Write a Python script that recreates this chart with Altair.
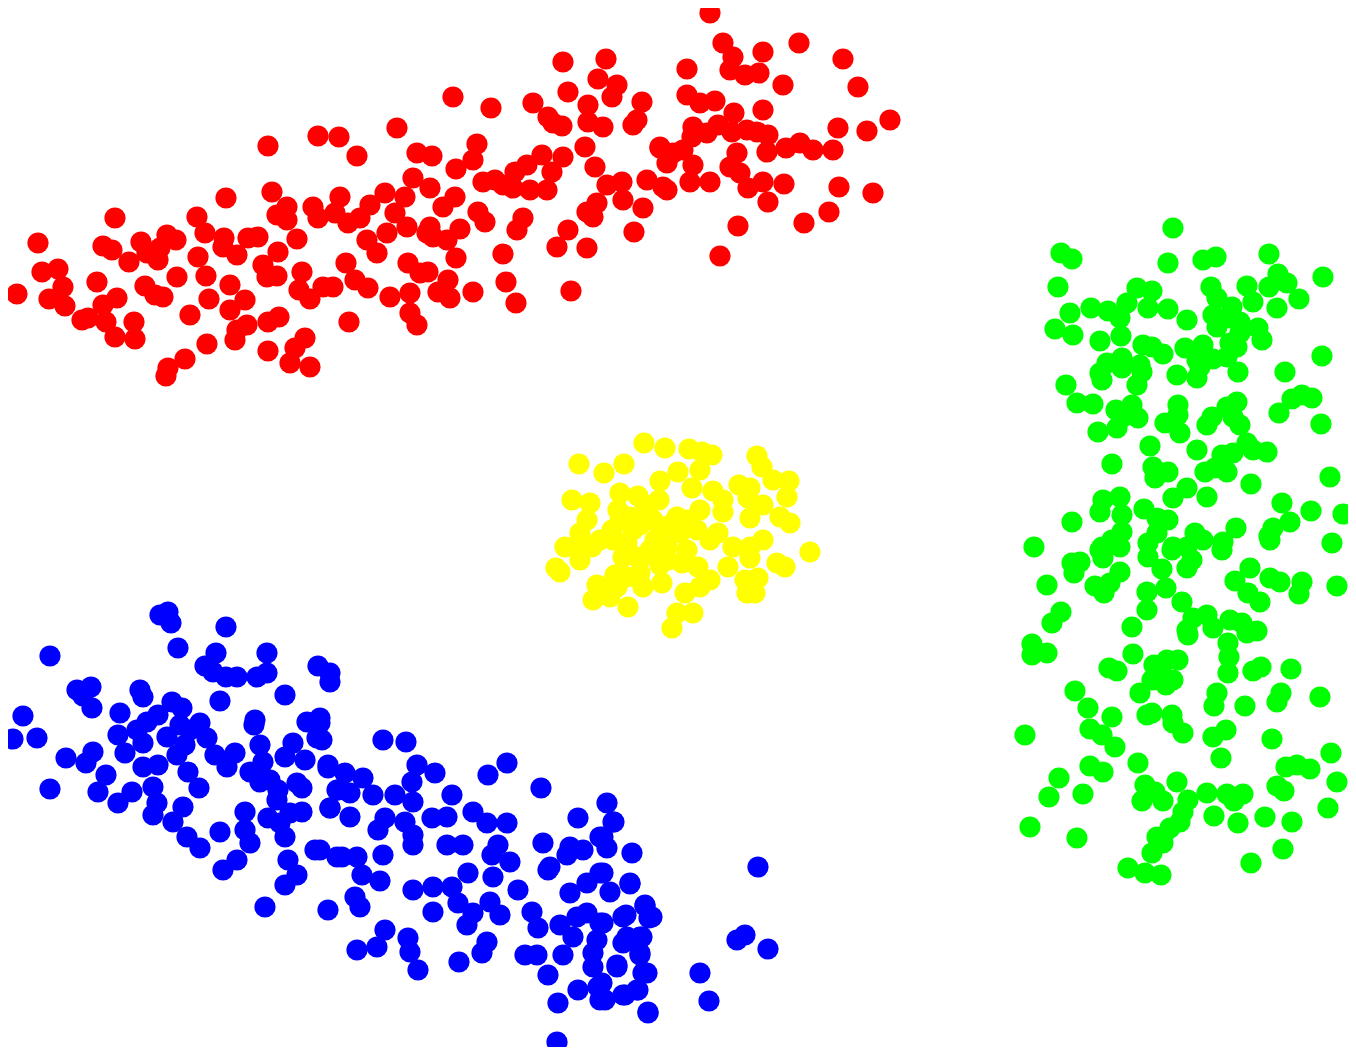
import altair as alt
import pandas as pd

# Point positions (pixel-like units, y grows downward)
red_points = [
    (710,13),(723,43),(799,43),(733,57),(763,52),(730,70),(745,75),(759,73),(687,69),(783,85),
    (843,59),(858,87),(687,95),(700,103),(715,101),(734,113),(763,110),(693,127),(692,137),(707,133),
    (718,125),(732,132),(747,130),(757,132),(768,135),(660,147),(673,153),(683,150),(693,165),(667,163),
    (667,190),(690,182),(710,182),(737,153),(730,167),(740,173),(748,188),(763,182),(767,152),(768,202),
    (784,184),(786,148),(800,143),(813,150),(833,150),(838,128),(867,131),(890,120),(839,187),(873,193),
    (829,212),(804,223),(738,226),(720,256),
    (563,62),(606,59),(598,79),(617,85),(612,97),(568,92),(453,97),(491,108),(533,103),(548,117),
    (562,126),(553,123),(588,105),(588,122),(603,127),(642,102),(633,125),(637,120),(339,137),(357,156),
    (397,128),(417,153),(432,156),(477,144),(473,160),(456,169),(483,182),(495,180),(503,185),(513,188),
    (515,172),(527,165),(542,155),(530,190),(547,190),(552,172),(563,157),(585,147),(595,167),(660,148),
    (663,187),(647,180),(622,182),(607,185),(623,200),(643,208),(597,203),(587,212),(593,217),(568,230),
    (557,247),(587,248),(634,232),(523,218),(517,230),(478,212),(485,222),(460,229),(456,258),(455,197),
    (443,207),(430,188),(413,178),(405,197),(385,193),(370,205),(395,213),(407,227),(340,197),(335,213),
    (348,223),(360,218),(387,233),(367,240),(377,253),(430,227),(433,237),(447,240),(427,233),(346,263),
    (333,287),(355,280),(368,288),(390,297),(408,263),(420,273),(428,272),(410,293),(410,313),(417,325),
    (438,292),(448,280),(450,298),(473,292),(503,254),(506,282),(516,303),(349,322),(571,291),
    (268,146),(318,136),(272,192),(226,198),(115,218),(197,217),(287,207),(313,207),(318,218),(277,215),
    (287,220),(297,239),(278,252),(263,265),(267,277),(277,276),(302,272),(299,290),(310,299),(323,287),
    (38,243),(42,272),(58,269),(63,287),(17,294),(49,299),(65,306),(82,320),(88,318),(97,282),
    (103,305),(117,298),(106,322),(115,337),(135,339),(134,322),(103,246),(112,250),(129,262),(141,242),
    (147,253),(145,286),(155,295),(163,297),(158,260),(160,248),(167,235),(176,240),(177,277),(190,315),
    (168,368),(166,376),(185,359),(207,344),(198,257),(206,276),(205,233),(224,238),(223,247),(237,255),
    (248,238),(258,237),(230,285),(209,299),(230,310),(245,300),(237,330),(247,325),(235,340),(268,322),
    (279,317),(268,351),(295,348),(305,338),(290,363),(310,367),
]

yellow_points = [
    (644,443),(665,448),(689,449),(702,452),(712,455),(757,456),(579,464),(604,473),(624,464),(678,472),
    (700,470),(762,467),(773,480),(789,481),(660,481),(692,488),(620,493),(638,496),(659,500),(713,491),
    (723,500),(739,485),(750,488),(748,498),(787,497),(572,500),(590,503),(618,510),(630,517),(647,510),
    (653,520),(677,517),(687,520),(700,510),(723,512),(750,518),(763,505),(780,517),(790,523),(587,520),
    (580,533),(612,530),(633,530),(660,532),(680,533),(697,530),(718,533),(710,540),(733,547),(750,547),
    (763,540),(565,547),(577,545),(592,547),(613,540),(627,543),(650,550),(667,547),(687,550),(810,552),
    (556,568),(560,572),(580,560),(623,557),(637,557),(668,560),(682,563),(698,567),(728,567),(750,558),
    (777,563),(785,567),(597,585),(603,587),(593,600),(610,597),(627,577),(628,607),(643,587),(662,583),
    (640,573),(685,593),(700,587),(710,580),(745,580),(758,578),(747,593),(755,593),(693,613),(677,613),
    (672,628),(617,587),(640,525),(655,540),(620,520),(645,505),(670,525),(600,540),(625,545),(640,560),
    (660,565),(615,575),
]

green_points = [
    (1173,228),(1061,253),(1072,259),(1168,263),(1203,260),(1216,257),(1269,254),(1323,277),(1058,287),(1137,288),
    (1152,291),(1211,287),(1247,286),(1278,274),(1287,283),(1269,287),(1299,299),(1070,313),(1091,308),(1108,311),
    (1127,303),(1120,318),(1148,308),(1168,309),(1187,320),(1217,298),(1232,307),(1253,302),(1277,308),(1213,315),
    (1217,327),(1230,318),(1240,322),(1258,328),(1262,340),(1055,329),(1073,335),(1100,341),(1121,336),(1143,345),
    (1152,347),(1163,354),(1185,348),(1203,345),(1197,360),(1213,359),(1230,343),(1237,347),(1240,333),(1227,357),
    (1238,372),(1322,356),(1285,372),(1107,363),(1122,358),(1122,368),(1140,365),(1142,372),(1100,373),(1102,380),
    (1177,375),(1197,378),(1200,367),(1137,385),(1066,385),(1077,403),(1093,404),(1116,410),(1132,405),(1123,417),
    (1138,418),(1117,428),(1098,432),(1178,405),(1178,415),(1165,423),(1180,433),(1212,417),(1207,425),(1227,407),
    (1237,402),(1233,417),(1240,425),(1279,413),(1292,399),(1302,395),(1312,398),(1321,424),(1150,446),(1197,450),
    (1247,443),(1253,450),(1267,452),(1222,455),(1233,453),(1112,464),(1153,467),(1168,472),(1155,478),(1205,472),
    (1215,468),(1227,472),(1251,484),(1330,477),(1103,500),(1120,497),(1100,512),(1122,515),(1072,522),(1144,509),
    (1157,518),(1168,520),(1173,498),(1187,488),(1207,497),(1282,503),(1290,522),(1273,528),(1269,536),(1311,511),
    (1343,514),(1236,528),(1034,547),(1102,547),(1122,532),(1112,540),(1148,543),(1157,533),(1173,547),(1195,533),
    (1203,540),(1223,542),(1332,543),
    (1100,550),(1120,547),(1103,558),(1148,557),(1172,550),(1187,547),(1222,550),(1270,540),
    (1072,563),(1080,562),(1074,573),(1047,585),(1120,572),(1110,583),(1095,586),(1104,593),(1162,569),(1187,568),
    (1192,560),(1147,592),(1166,588),(1182,602),(1147,610),(1235,581),(1250,568),(1270,578),(1280,582),(1248,593),
    (1260,602),(1302,582),(1299,594),(1337,586),(1061,612),(1052,623),(1032,644),(1032,655),(1047,653),(1132,627),
    (1133,654),(1193,618),(1207,615),(1188,635),(1187,630),(1213,628),(1230,620),(1242,623),(1247,633),(1257,631),
    (1228,643),(1229,657),(1228,673),(1109,668),(1117,671),(1154,665),(1167,660),(1178,660),(1160,675),(1173,680),
    (1152,680),(1166,685),(1140,693),(1253,671),(1261,667),(1291,669),(1217,693),(1214,706),(1245,706),(1281,693),
    (1277,702),(1320,697),(1075,691),(1088,708),(1112,717),(1090,729),(1102,735),(1115,747),(1025,735),(1147,715),
    (1152,713),(1172,715),(1173,723),(1183,733),(1213,737),(1226,730),(1272,739),(1221,758),(1331,753),(1090,766),
    (1103,772),(1138,763),(1059,778),(1049,797),(1083,794),(1145,785),(1155,792),(1142,801),(1163,801),(1177,782),
    (1188,800),(1183,812),(1180,822),(1207,793),(1227,794),(1234,801),(1243,794),(1214,816),(1238,823),(1265,817),
    (1286,767),(1297,765),(1310,769),(1277,786),(1284,791),(1292,822),(1337,782),(1328,808),(1030,827),(1077,838),
    (1170,828),(1163,837),(1157,837),(1163,843),(1152,853),(1283,849),(1251,863),(1128,868),(1145,873),(1161,875),
]

blue_points = [
    (160,615),(168,612),(171,623),(226,627),(50,656),(178,648),(216,653),(205,666),(213,672),(226,677),
    (237,677),(257,677),(267,673),(267,653),(318,666),(330,673),(330,682),(77,690),(91,687),(83,696),
    (92,708),(140,690),(143,697),(220,701),(285,695),(23,716),(13,739),(37,738),(120,713),(158,715),
    (172,702),(182,708),(147,722),(137,730),(118,735),(143,743),(125,753),(167,737),(180,725),(190,730),
    (200,723),(207,738),(185,745),(177,755),(66,758),(93,752),(86,763),(106,775),(98,792),(50,789),
    (118,803),(132,792),(143,767),(158,765),(153,787),(157,803),(153,815),(173,822),(183,807),(188,772),
    (199,788),(187,837),(200,848),(215,755),(227,767),(235,753),(255,720),(254,725),(260,745),(250,772),
    (263,762),(260,782),(270,780),(278,790),(285,757),(293,743),(307,722),(320,718),(317,738),(305,760),
    (297,783),(302,788),(328,768),(337,790),(330,808),(277,800),(268,818),(280,823),(290,813),(302,812),
    (245,812),(245,830),(250,843),(220,832),(237,860),(223,870),(285,837),(288,860),(297,875),(285,885),
    (315,850),(337,857),(265,907),
    (320,723),(322,740),(383,740),(406,742),(328,765),(345,773),(363,778),(417,765),(435,773),(412,782),
    (488,775),(507,763),(541,788),(338,790),(350,793),(373,795),(395,795),(413,802),(452,795),(330,808),
    (350,817),(385,818),(378,830),(405,822),(413,835),(432,818),(447,817),(473,812),(487,823),(507,823),
    (498,845),(510,862),(492,855),(493,877),(447,845),(463,845),(413,845),(383,855),(342,857),(357,857),
    (362,875),(380,881),(320,850),(355,897),(360,907),(328,910),(413,890),(433,887),(433,912),(452,887),
    (468,873),(458,903),(473,913),(490,902),(500,915),(467,925),(518,890),(543,843),(548,870),(550,867),
    (570,847),(583,850),(567,855),(578,818),(607,803),(613,822),(600,837),(607,848),(632,853),(532,912),
    (538,928),(560,925),(570,893),(587,883),(600,873),(610,892),(630,883),(577,917),(587,913),(600,923),
    (573,937),(597,940),(623,917),(645,905),(652,917),(627,937),(640,937),(385,930),(377,947),(357,950),
    (408,938),(410,952),(418,970),(459,962),(482,953),(487,942),(525,955),(537,955),(548,975),(563,955),
    (593,953),(593,967),(617,967),(640,953),(643,973),(578,990),(598,987),(600,1000),(623,995),(637,990),
    (558,1003),(648,1012),(557,1042),
    (614,822),(603,837),(603,873),(630,884),(645,906),(626,915),(649,918),(603,923),(642,937),(623,943),
    (640,955),(617,965),(647,973),(602,983),(638,990),(625,995),(605,1000),(648,1013),(758,867),(745,935),
    (737,940),(768,949),(700,973),(709,1001),
]

cluster_names = ["red", "yellow", "green", "blue"]
cluster_colors = ["#ff0000", "#ffff00", "#00ff00", "#0000ff"]

rows = []
for name, pts in zip(cluster_names, [red_points, yellow_points, green_points, blue_points]):
    for (px, py) in pts:
        rows.append({"x": px, "y": py, "cluster": name})
df = pd.DataFrame(rows)

W, H = 1340, 1039
chart = alt.Chart(df).mark_circle(size=450, opacity=1).encode(
    x=alt.X("x:Q", scale=alt.Scale(domain=[8, 8 + W], nice=False, zero=False), axis=None),
    y=alt.Y("y:Q", scale=alt.Scale(domain=[8, 8 + H], nice=False, zero=False, reverse=True), axis=None),
    color=alt.Color("cluster:N", scale=alt.Scale(domain=cluster_names, range=cluster_colors), legend=None),
).properties(
    width=W, height=H, padding=0,
    autosize=alt.AutoSizeParams(type="none"),
).configure_view(stroke=None)

chart.save("out.html", embed_options={"renderer": "svg", "actions": False})
